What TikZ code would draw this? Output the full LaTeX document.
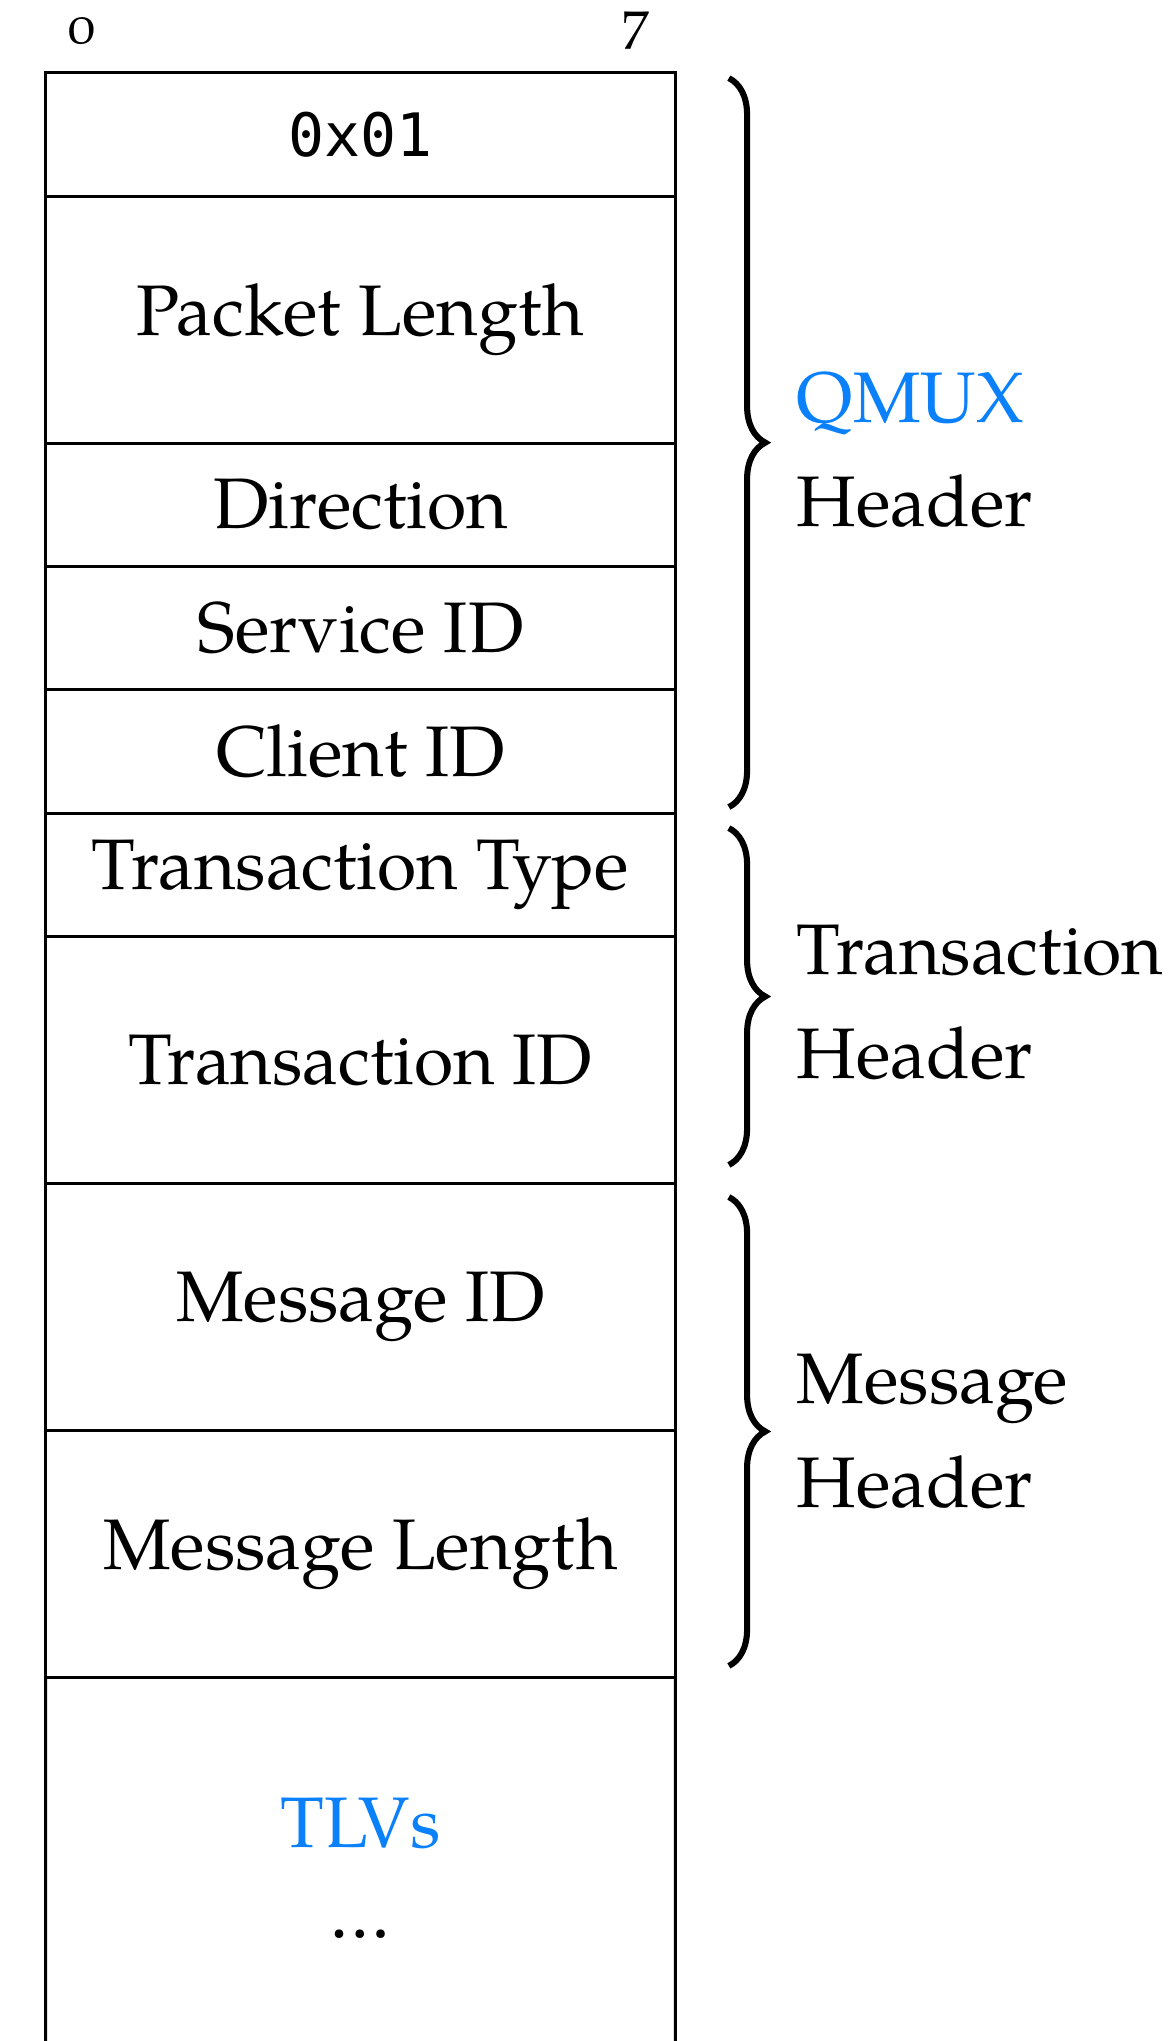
\documentclass[tikz,border=0pt]{standalone}
\usepackage{fontspec}
\setmainfont{TeX Gyre Pagella}[Numbers=OldStyle]
\setmonofont{DejaVu Sans Mono}
\usetikzlibrary{positioning,decorations.pathreplacing}
\definecolor{qblue}{RGB}{10,128,250}

\begin{document}
\begin{tikzpicture}[
    every node/.style={font=\fontsize{16.5}{24}\selectfont},
    field/.style={draw, line width=0.7pt, minimum width=5.105cm, outer sep=0pt, inner sep=0pt, align=center},
    hbrace/.style={decorate, decoration={brace, amplitude=8.4pt}, line width=1.4pt},
    grouplabel/.style={align=left, inner sep=0pt},
    bitnum/.style={font=\fontsize{12.5}{14}\selectfont}
  ]
  \useasboundingbox (-0.369,0.591) rectangle (9.103,-15.95);
  % bit numbers
  \node[bitnum] (b0) at (0.295,0.34) {0};
  \node[bitnum] (b7) at (4.79,0.34) {7};
  % header fields, one row per byte
  \node[field, minimum height=1cm] (ver) at (2.5525,-0.5) {\fontsize{13.8}{16}\ttfamily 0x01};
  \node[field, minimum height=2cm] (plen) at (2.5525,-2) {Packet Length};
  \node[field, minimum height=1cm] (dir) at (2.5525,-3.5) {Direction};
  \node[field, minimum height=1cm] (svc) at (2.5525,-4.5) {Service ID};
  \node[field, minimum height=1cm] (cli) at (2.5525,-5.5) {Client ID};
  \node[field, minimum height=1cm] (ttype) at (2.5525,-6.5) {Transaction Type};
  \node[field, minimum height=2cm] (tid) at (2.5525,-8) {Transaction ID};
  \node[field, minimum height=2cm] (mid) at (2.5525,-10) {Message ID};
  \node[field, minimum height=2cm] (mlen) at (2.5525,-12) {Message Length};
  % payload, open at the bottom
  \draw[line width=0.7pt] (mlen.south west) -- (0,-15.95);
  \draw[line width=0.7pt] (mlen.south east) -- (5.105,-15.95);
  \node[align=center] (tlv) at (2.5525,-14.55) {{\color{qblue}TLVs}\\[-3pt]\ldots};
  % braces
  \coordinate (qtop) at (5.538,-0.042);
  \coordinate (qbot) at (5.538,-5.95);
  \coordinate (qtip) at (5.833,-3.0);
  \coordinate (ttop) at (5.538,-6.12);
  \coordinate (tbot) at (5.538,-8.85);
  \coordinate (ttip) at (5.833,-7.48);
  \coordinate (mtop) at (5.538,-9.11);
  \coordinate (mbot) at (5.538,-12.91);
  \coordinate (mtip) at (5.833,-11.01);
  \draw[hbrace] (qtop) -- (qbot);
  \draw[hbrace] (ttop) -- (tbot);
  \draw[hbrace] (mtop) -- (mbot);
  \node[grouplabel, right=0.25cm of qtip, yshift=-1.5pt] (qlbl) {{\color{qblue}QMUX}\\Header};
  \node[grouplabel, right=0.25cm of ttip, yshift=-1.5pt] (tlbl) {Transaction\\Header};
  \node[grouplabel, right=0.25cm of mtip] (mlbl) {Message\\Header};
\end{tikzpicture}
\end{document}
